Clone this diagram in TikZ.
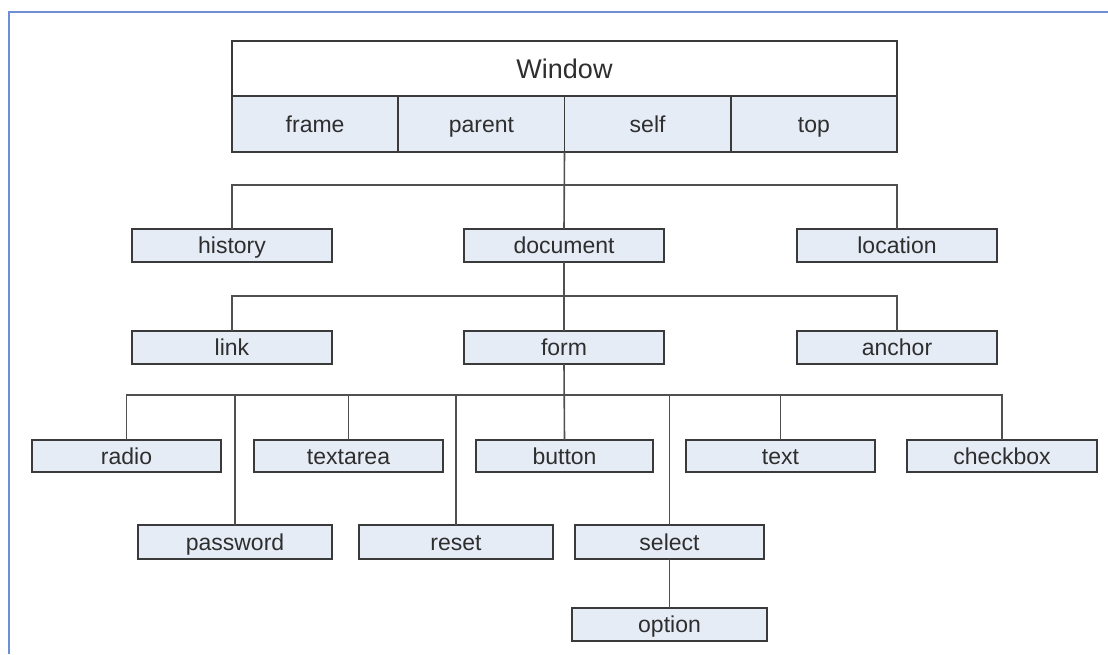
\documentclass[tikz,border=0pt]{standalone}
\usepackage{fontspec}
\setmainfont{Liberation Sans}
\usetikzlibrary{positioning}

\definecolor{boxfill}{HTML}{E6ECF6}
\definecolor{boxline}{HTML}{3A3A3A}
\definecolor{wireline}{HTML}{505050}
\definecolor{labeltext}{HTML}{2E2E2E}
\definecolor{frameblue}{HTML}{6E8FD6}

\begin{document}
\begin{tikzpicture}[x=1pt,y=-1pt,line width=1.6pt,
    obj/.style={draw=boxline,fill=boxfill,text=labeltext,inner sep=0pt,outer sep=0pt,
                minimum width=200pt,minimum height=33pt,text height=16.5pt,text depth=0pt,
                font=\fontsize{23}{27}\selectfont},
    cell/.style={obj,minimum width=166.25pt,minimum height=56pt},
    wire/.style={draw=wireline}]
        \useasboundingbox (0,0) rectangle (1108,654);
        \draw[frameblue,line width=2.4pt] (9,654) -- (9,12) -- (1108,12);

        % window object and its four references
        \node[obj,fill=white,minimum width=665pt,minimum height=55pt,text height=19.5pt,
              font=\fontsize{27}{32}\selectfont] (window) at (564.5,68.5) {Window};
        \node[cell,anchor=north west] (frame) at (window.south west) {frame};
        \node[cell] (parent) [right=0pt of frame] {parent};
        \node[cell] (self) [right=0pt of parent] {self};
        \node[cell] (top) [right=0pt of self] {top};

        \node[obj] (history) at (232,245.5) {history};
        \node[obj] (document) at (564,245.5) {document};
        \node[obj] (location) at (897,245.5) {location};

        \node[obj] (link) at (232,347.5) {link};
        \node[obj] (form) at (564,347.5) {form};
        \node[obj] (anchor) at (897,347.5) {anchor};

        % form elements
        \node[obj,minimum width=189pt,minimum height=32pt] (radio) at (126.5,456) {radio};
        \node[obj,minimum width=189pt,minimum height=32pt] (textarea) [right=33pt of radio] {textarea};
        \node[obj,minimum width=177pt,minimum height=32pt] (button) [right=33pt of textarea] {button};
        \node[obj,minimum width=189pt,minimum height=32pt] (text) [right=33pt of button] {text};
        \node[obj,minimum width=190pt,minimum height=32pt] (checkbox) [right=32pt of text] {checkbox};

        \node[obj,minimum width=194pt,minimum height=34pt] (password) at (235,542) {password};
        \node[obj,minimum width=194pt,minimum height=34pt] (reset) [right=27pt of password] {reset};
        \node[obj,minimum width=189pt,minimum height=34pt] (select) at (669.5,542) {select};
        \node[obj,minimum width=195pt,minimum height=33pt] (option) at (669.5,624.5) {option};

        \coordinate (bus1) at (564.5,185);
        \coordinate (bus2) at (564.5,296);
        \coordinate (bus3) at (564.5,395);

        \path[wire] (parent.south east) edge (document.north) % window -> document
                    (history.north) edge[to path={|- (bus1) -| (\tikztotarget)}] (location.north)
                    (document.south) edge (form.north) % document -> form
                    (link.north) edge[to path={|- (bus2) -| (\tikztotarget)}] (anchor.north)
                    (form.south) edge (button.north) % form -> elements
                    (radio.north) edge[to path={|- (bus3) -| (\tikztotarget)}] (checkbox.north)
                    (textarea.north) edge (textarea.north |- bus3)
                    (text.north) edge (text.north |- bus3)
                    (password.north) edge (password.north |- bus3)
                    (reset.north) edge (reset.north |- bus3)
                    (select.north) edge (select.north |- bus3)
                    (select.south) edge (option.north) % select -> option
                    ;
      \end{tikzpicture}
\end{document}
